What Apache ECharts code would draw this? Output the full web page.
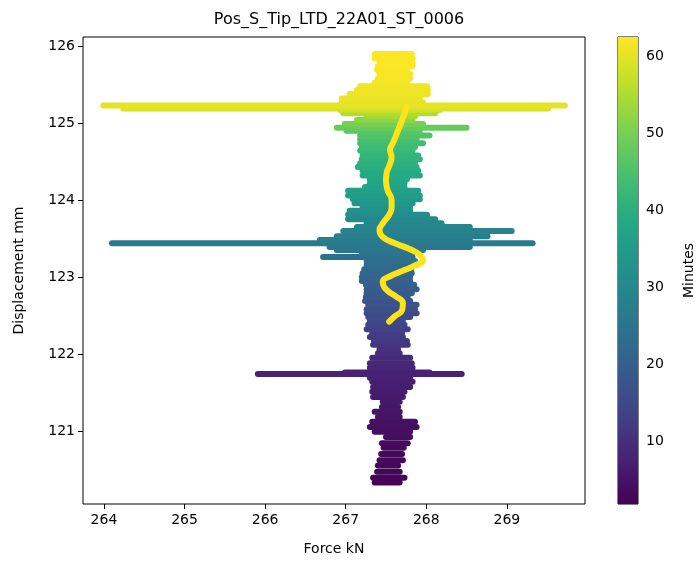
<!DOCTYPE html>
<html>
<head>
<meta charset="utf-8">
<script src="https://cdn.jsdelivr.net/npm/echarts@6/dist/echarts.min.js"></script>
<style>html,body{margin:0;padding:0;background:#fff;}#c{width:697px;height:561px;}</style>
</head>
<body>
<div id="c"></div>
<script>
// ---- data ----
const titleText = 'Pos_S_Tip_LTD_22A01_ST_0006';
const xTicks = [264, 265, 266, 267, 268, 269];
const yTicks = [121, 122, 123, 124, 125, 126];
const cTicks = [10, 20, 30, 40, 50, 60];
const minutesMin = 1.8;
const minutesMax = 62.5;

// horizontal oscillation rows: displacement, force extents, time (minutes)
const dispRows = [120.33,120.39,120.47,120.55,120.62,120.70,120.78,120.84,120.92,120.99,
  121.05,121.12,121.18,121.25,121.31,121.38,121.44,121.51,121.57,121.64,121.69,121.74,121.76,
  121.82,121.88,121.95,122.01,122.06,122.12,122.17,122.22,122.27,122.32,122.38,122.43,122.48,
  122.53,122.58,122.64,122.69,122.74,122.79,122.84,122.90,122.95,123.00,123.05,123.10,123.16,
  123.21,123.26,123.31,123.35,123.39,123.44,123.48,123.53,123.60,123.65,123.70,123.75,123.81,
  123.86,123.91,123.96,124.01,124.06,124.12,124.17,124.22,124.27,124.32,124.38,124.43,124.48,
  124.53,124.58,124.64,124.69,124.74,124.79,124.84,124.90,124.94,124.99,125.04,125.09,125.13,
  125.17,125.19,125.23,125.27,125.32,125.38,125.43,125.48,125.53,125.58,125.64,125.69,125.74,
  125.79,125.84,125.90];
const forceLeft = [267.36,267.34,267.39,267.40,267.42,267.44,267.47,267.45,267.50,267.36,
  267.30,267.33,267.40,267.36,267.45,267.46,267.34,267.33,267.34,267.33,267.30,265.91,266.99,
  267.30,267.30,267.33,267.40,267.42,267.34,267.35,267.30,267.33,267.26,267.28,267.30,267.28,
  267.26,267.26,267.28,267.24,267.25,267.26,267.26,267.25,267.20,267.20,267.21,267.23,267.26,
  267.26,266.72,267.20,266.89,266.80,264.10,266.68,266.89,266.97,267.14,267.26,267.03,267.03,
  267.05,267.21,267.11,267.09,267.03,267.03,267.24,267.30,267.30,267.21,267.21,267.15,267.18,
  267.20,267.21,267.18,267.20,267.18,267.18,267.18,267.01,266.89,266.99,267.14,267.26,266.97,
  266.93,264.24,263.99,266.95,266.95,267.05,267.14,267.18,267.36,267.40,267.42,267.39,267.40,
  267.42,267.36,267.36];
const forceRight = [267.67,267.73,267.67,267.65,267.71,267.70,267.72,267.77,267.80,267.80,
  267.88,267.86,267.67,267.67,267.65,267.67,267.71,267.73,267.80,267.83,267.80,268.44,268.04,
  267.83,267.82,267.80,267.67,267.65,267.77,267.76,267.71,267.70,267.77,267.73,267.71,267.80,
  267.88,267.86,267.88,267.80,267.77,267.82,267.88,267.85,267.80,267.80,267.82,267.81,267.88,
  267.86,267.83,267.83,267.96,268.54,269.32,268.54,268.76,269.06,268.54,268.19,268.11,268.01,
  267.80,267.80,267.83,267.92,267.92,267.90,267.73,267.73,267.76,267.92,267.90,267.88,267.86,
  267.92,267.90,267.83,267.86,267.96,267.88,268.04,267.92,268.50,267.96,267.83,267.86,268.11,
  268.17,269.51,269.72,267.96,267.92,268.02,268.02,268.01,267.76,267.80,267.80,267.76,267.83,
  267.83,267.83,267.82];
const minutesRows = [2.2,2.4,2.6,2.8,3.0,3.2,3.4,3.6,3.8,4.0,
  4.3,4.6,4.9,5.2,5.5,5.8,6.1,6.4,6.7,7.0,7.3,7.6,7.7,
  8.1,8.6,9.2,9.8,10.4,11.0,11.6,12.2,12.8,13.4,14.0,14.6,15.2,
  15.8,16.4,17.0,17.6,18.2,18.8,19.4,20.0,20.6,21.2,21.8,22.4,23.0,
  23.6,24.2,24.8,25.4,26.0,26.6,27.2,27.8,28.4,29.0,29.6,30.2,31.0,
  31.8,32.6,33.4,34.2,35.0,35.8,36.6,37.2,37.8,38.4,39.0,39.6,40.2,
  40.8,41.4,42.2,43.0,43.8,44.6,45.6,46.6,48.2,49.8,51.8,53.8,55.4,
  56.9,58.9,60.0,60.4,60.7,61.0,61.2,61.4,61.6,61.8,62.0,62.1,62.2,
  62.3,62.4,62.5];

// smoothed mean curve (yellow)
const meanForce = [267.76,267.70,267.64,267.59,267.55,267.57,267.55,267.51,267.50,267.52,
  267.57,267.57,267.54,267.47,267.42,267.46,267.61,267.80,267.92,267.96,267.88,267.73,267.55,
  267.46,267.50,267.62,267.71,267.70,267.61,267.54];
const meanDisp = [125.21,125.04,124.88,124.75,124.65,124.56,124.47,124.36,124.26,124.13,
  124.00,123.90,123.81,123.71,123.61,123.52,123.44,123.36,123.29,123.22,123.16,123.09,123.01,
  122.94,122.84,122.75,122.66,122.57,122.49,122.42];

const viridis = ['#440154','#482475','#414487','#355f8d','#2a788e','#21918c','#22a884','#44bf70','#7ad151','#bddf26','#fde725'];

// ---- build ----
const rowData = dispRows.map((d, i) => [forceLeft[i], forceRight[i], d, minutesRows[i]]);
const meanData = meanDisp.map((d, i) => [meanForce[i], d]);
const FONT = 'DejaVu Sans';

const chart = echarts.init(document.getElementById('c'), null, {renderer: 'canvas'});
chart.setOption({
  animation: false,
  backgroundColor: '#fff',
  title: {
    text: titleText, left: 334, top: 7, textAlign: 'center',
    textStyle: {fontFamily: FONT, fontSize: 16, fontWeight: 'normal', color: '#000'}
  },
  grid: [
    {left: 83, right: 112, top: 37, bottom: 57, show: true, borderColor: '#000', borderWidth: 1, backgroundColor: 'transparent'},
    {left: 618, width: 23, top: 37, bottom: 57, show: true, borderColor: '#000', borderWidth: 1}
  ],
  xAxis: [
    {type: 'value', gridIndex: 0, min: 263.74, max: 269.97,
     name: 'Force kN', nameLocation: 'middle', nameGap: 38,
     nameTextStyle: {fontFamily: FONT, fontSize: 14, color: '#000'},
     axisLine: {show: false}, splitLine: {show: false},
     axisTick: {show: true, customValues: xTicks, length: 5, lineStyle: {color: '#000'}},
     axisLabel: {customValues: xTicks, fontFamily: FONT, fontSize: 14, color: '#000', margin: 9}},
    {type: 'value', gridIndex: 1, min: 0, max: 1, show: false}
  ],
  yAxis: [
    {type: 'value', gridIndex: 0, min: 120.05, max: 126.12,
     name: 'Displacement mm', nameLocation: 'middle', nameGap: 57, nameRotate: 90,
     nameTextStyle: {fontFamily: FONT, fontSize: 14, color: '#000'},
     axisLine: {show: false}, splitLine: {show: false},
     axisTick: {show: true, customValues: yTicks, length: 5, lineStyle: {color: '#000'}},
     axisLabel: {customValues: yTicks, fontFamily: FONT, fontSize: 14, color: '#000', margin: 8}},
    {type: 'value', gridIndex: 1, min: minutesMin, max: minutesMax, position: 'right',
     name: 'Minutes', nameLocation: 'middle', nameGap: 44, nameRotate: 90,
     nameTextStyle: {fontFamily: FONT, fontSize: 14, color: '#000'},
     axisLine: {show: false}, splitLine: {show: false},
     axisTick: {show: true, customValues: cTicks, length: 5, lineStyle: {color: '#000'}},
     axisLabel: {customValues: cTicks, fontFamily: FONT, fontSize: 14, color: '#000', margin: 8}}
  ],
  visualMap: {
    show: false, type: 'continuous', seriesIndex: 0, dimension: 3,
    min: minutesMin, max: minutesMax, inRange: {color: viridis}
  },
  series: [
    {
      type: 'custom', xAxisIndex: 0, yAxisIndex: 0, z: 2,
      encode: {x: [0, 1], y: 2},
      data: rowData,
      renderItem: function (params, api) {
        const p1 = api.coord([api.value(0), api.value(2)]);
        const p2 = api.coord([api.value(1), api.value(2)]);
        return {type: 'line', shape: {x1: p1[0], y1: p1[1], x2: p2[0], y2: p2[1]},
          style: {stroke: api.visual('color'), lineWidth: 6, lineCap: 'round'}};
      }
    },
    {
      type: 'line', xAxisIndex: 0, yAxisIndex: 0, z: 5,
      data: meanData, smooth: true, showSymbol: false, symbol: 'none',
      lineStyle: {color: '#fde31c', width: 6, cap: 'round'}
    },
    {
      type: 'custom', xAxisIndex: 1, yAxisIndex: 1,
      data: [[0, minutesMin]],
      renderItem: function (params, api) {
        const a = api.coord([0, minutesMax]);
        const b = api.coord([1, minutesMin]);
        const stops = viridis.map((c, i) => ({offset: i / (viridis.length - 1), color: c}));
        return {type: 'rect', shape: {x: a[0], y: a[1], width: b[0] - a[0], height: b[1] - a[1]},
          style: {fill: new echarts.graphic.LinearGradient(0, 1, 0, 0, stops)}};
      }
    }
  ]
});
</script>
</body>
</html>
